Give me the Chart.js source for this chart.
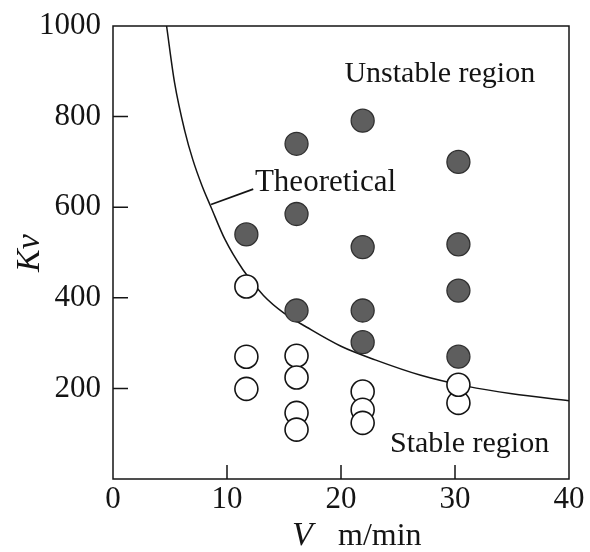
<!DOCTYPE html>
<html>
<head>
<meta charset="utf-8">
<script src="https://cdn.jsdelivr.net/npm/chart.js@4/dist/chart.umd.min.js"></script>
<style>
  html, body { margin: 0; padding: 0; background: #fff; }
  #c { display: block; }
</style>
</head>
<body>
<canvas id="c" width="590" height="552"></canvas>
<script>
// Cutting speed V (m/min) and gain Kv for chatter tests
const unstableV  = [11.7, 16.1, 16.1, 16.1, 21.9, 21.9, 21.9, 21.9, 30.3, 30.3, 30.3, 30.3];
const unstableKv = [540, 740, 585, 372, 791, 512, 372, 302, 700, 518, 416, 270];

const stableV  = [11.7, 11.7, 11.7, 16.1, 16.1, 16.1, 16.1, 21.9, 21.9, 21.9, 30.3, 30.3];
const stableKv = [425, 270, 199, 272, 224, 146, 109, 193, 153, 124, 168, 208];

// Theoretical stability limit
const limitV  = [4.7, 5.4, 6.3, 7.0, 7.8, 8.6, 9.8, 11.4, 13.2, 15.0, 17.0, 20.0, 23.0, 27.0, 31.0, 35.0, 40.0];
const limitKv = [1000, 875, 768, 705, 648, 600, 530, 462, 405, 366, 335, 293, 263, 229, 205, 188, 173];

const xTicks = [0, 10, 20, 30, 40];
const yTicks = [200, 400, 600, 800, 1000];

const SERIF = '"Liberation Serif", "DejaVu Serif", serif';
const INK = '#141414';

const toPoints = (xs, ys) => xs.map((x, i) => ({ x: x, y: ys[i] }));

// Annotations placed in data units
const notes = [
  { text: 'Unstable region', x: 20.3, y: 877, size: 30 },
  { text: 'Theoretical', x: 12.45, y: 636, size: 31 },
  { text: 'Stable region', x: 24.3, y: 60, size: 30 }
];
const leader = { x1: 8.6, y1: 606, x2: 12.3, y2: 640 };

const decorations = {
  id: 'decorations',
  afterDraw(chart) {
    const { ctx, chartArea: a, scales: { x, y } } = chart;
    ctx.save();
    ctx.strokeStyle = INK;
    ctx.lineWidth = 1.5;
    ctx.strokeRect(a.left, a.top, a.right - a.left, a.bottom - a.top);

    // inward tick marks
    ctx.beginPath();
    xTicks.forEach(v => {
      if (v === x.min || v === x.max) return;
      const px = x.getPixelForValue(v);
      ctx.moveTo(px, a.bottom);
      ctx.lineTo(px, a.bottom - 14);
    });
    yTicks.forEach(v => {
      if (v === y.min || v === y.max) return;
      const py = y.getPixelForValue(v);
      ctx.moveTo(a.left, py);
      ctx.lineTo(a.left + 15, py);
    });
    ctx.stroke();

    // leader line to the curve
    ctx.lineWidth = 1.7;
    ctx.beginPath();
    ctx.moveTo(x.getPixelForValue(leader.x1), y.getPixelForValue(leader.y1));
    ctx.lineTo(x.getPixelForValue(leader.x2), y.getPixelForValue(leader.y2));
    ctx.stroke();

    ctx.fillStyle = INK;
    ctx.textBaseline = 'alphabetic';
    ctx.textAlign = 'left';
    notes.forEach(n => {
      ctx.font = n.size + 'px ' + SERIF;
      ctx.fillText(n.text, x.getPixelForValue(n.x), y.getPixelForValue(n.y));
    });

    // x axis title: italic V followed by unit
    ctx.font = 'italic 34px ' + SERIF;
    ctx.fillText('V', 292, 545);
    ctx.font = '32px ' + SERIF;
    ctx.fillText('m/min', 338, 545);

    // y axis title
    ctx.save();
    ctx.translate(39, 253);
    ctx.rotate(-Math.PI / 2);
    ctx.textAlign = 'center';
    ctx.font = 'italic 34px ' + SERIF;
    ctx.fillText('Kv', 0, 0);
    ctx.restore();

    ctx.restore();
  }
};

new Chart(document.getElementById('c'), {
  type: 'scatter',
  data: {
    datasets: [
      {
        label: 'Unstable',
        data: toPoints(unstableV, unstableKv),
        pointRadius: 11.5,
        pointHoverRadius: 11.5,
        backgroundColor: '#5e5e5e',
        borderColor: '#303030',
        borderWidth: 1.3,
        order: 0
      },
      {
        label: 'Stable',
        data: toPoints(stableV, stableKv),
        pointRadius: 11.5,
        pointHoverRadius: 11.5,
        backgroundColor: '#ffffff',
        borderColor: INK,
        borderWidth: 1.6,
        order: 1
      },
      {
        label: 'Theoretical',
        type: 'line',
        data: toPoints(limitV, limitKv),
        showLine: true,
        pointRadius: 0,
        borderColor: INK,
        borderWidth: 1.5,
        cubicInterpolationMode: 'monotone',
        fill: false,
        order: 2
      }
    ]
  },
  options: {
    responsive: false,
    animation: false,
    devicePixelRatio: 1,
    layout: { padding: { top: 26, right: 21, left: 0, bottom: 0 } },
    plugins: { legend: { display: false }, tooltip: { enabled: false } },
    events: [],
    scales: {
      x: {
        type: 'linear',
        min: 0,
        max: 40,
        afterFit(s) { s.height = 73; s.paddingLeft = 0; s.paddingRight = 0; },
        afterBuildTicks(s) { s.ticks = xTicks.map(v => ({ value: v })); },
        ticks: { color: INK, font: { family: SERIF, size: 31 }, padding: 2, maxRotation: 0,
                 callback: v => String(v) },
        grid: { display: false, drawTicks: false },
        border: { display: false }
      },
      y: {
        type: 'linear',
        min: 0,
        max: 1000,
        afterFit(s) { s.width = 113; s.paddingTop = 0; s.paddingBottom = 0; },
        afterBuildTicks(s) { s.ticks = yTicks.map(v => ({ value: v })); },
        ticks: { color: INK, font: { family: SERIF, size: 31 }, padding: 12,
                 callback: v => String(v) },
        grid: { display: false, drawTicks: false },
        border: { display: false }
      }
    }
  },
  plugins: [decorations]
});
</script>
</body>
</html>
